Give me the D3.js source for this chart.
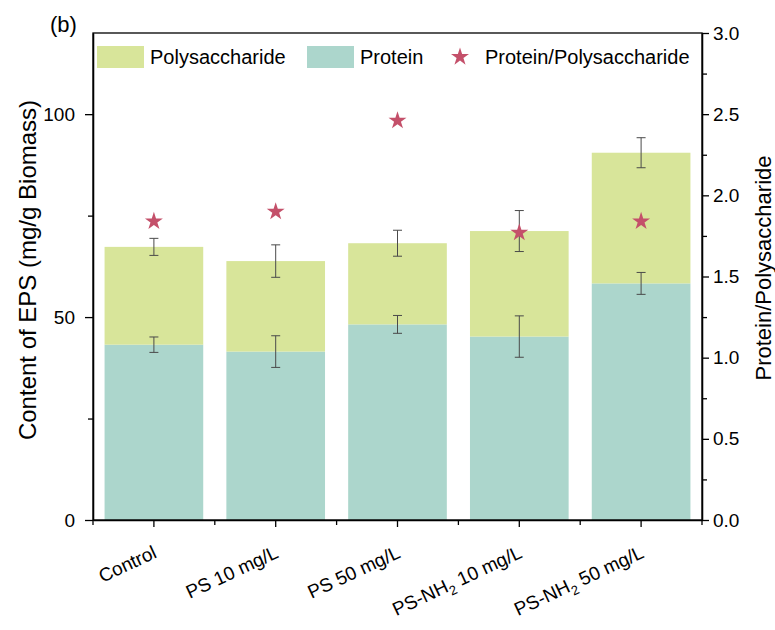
<!DOCTYPE html>
<html>
<head>
<meta charset="utf-8">
<script src="https://cdn.jsdelivr.net/npm/d3@7"></script>
<style>
  body { margin: 0; background: #fff; }
  svg { font-family: "Liberation Sans", Arial, sans-serif; }
  .axis path, .axis line { stroke: #000; stroke-width: 1.3; }
  .axis text { font-size: 19px; fill: #000; }
</style>
</head>
<body>
<svg id="draw"></svg>
<script>
// values
var categories = ["Control", "PS 10 mg/L", "PS 50 mg/L", "PS-NH2 10 mg/L", "PS-NH2 50 mg/L"];
var protein = [43.2, 41.5, 48.2, 45.2, 58.3];
var proteinErr = [1.9, 3.9, 2.2, 5.1, 2.7];
var polysaccharide = [24.1, 22.3, 20.0, 26.0, 32.2];
var polysaccharideErr = [2.1, 4.0, 3.2, 5.05, 3.7];
var ratio = [1.84, 1.90, 2.46, 1.77, 1.84];
var leftTicks = [0, 50, 100];
var rightTicks = [0, 0.5, 1.0, 1.5, 2.0, 2.5, 3.0];

var W = 775, H = 630;
var margin = {top: 33, right: 73, bottom: 110, left: 93};
var width = W - margin.left - margin.right;
var height = H - margin.top - margin.bottom;

var colPoly = "#d8e59a", colProt = "#acd6cc", colStar = "#c4506a", colErr = "#4a4a4a";

var svg = d3.select("#draw").attr("width", W).attr("height", H);
var g = svg.append("g").attr("transform", "translate(" + margin.left + "," + margin.top + ")");

var x = d3.scaleBand().domain(categories).range([0, width]).paddingInner(0.19).paddingOuter(0.095);
var y = d3.scaleLinear().domain([0, 120]).range([height, 0]);
var y2 = d3.scaleLinear().domain([0, 3]).range([height, 0]);

var rows = categories.map(function(c, i) {
  return {cat: c, prot: protein[i], protErr: proteinErr[i],
          poly: polysaccharide[i], polyErr: polysaccharideErr[i], ratio: ratio[i]};
});

// protein bars
g.selectAll(".prot").data(rows).enter().append("rect")
  .attr("class", "prot")
  .attr("x", function(d) { return x(d.cat); })
  .attr("width", x.bandwidth())
  .attr("y", function(d) { return y(d.prot); })
  .attr("height", function(d) { return y(0) - y(d.prot); })
  .attr("fill", colProt);

// polysaccharide stacked on top
g.selectAll(".poly").data(rows).enter().append("rect")
  .attr("class", "poly")
  .attr("x", function(d) { return x(d.cat); })
  .attr("width", x.bandwidth())
  .attr("y", function(d) { return y(d.prot + d.poly); })
  .attr("height", function(d) { return y(d.prot) - y(d.prot + d.poly); })
  .attr("fill", colPoly);

// error bars
function errBars(getV, getE) {
  var eb = g.append("g").selectAll("g").data(rows).enter().append("g")
    .attr("transform", function(d) { return "translate(" + (x(d.cat) + x.bandwidth() / 2) + ",0)"; });
  eb.append("line")
    .attr("y1", function(d) { return y(getV(d) - getE(d)); })
    .attr("y2", function(d) { return y(getV(d) + getE(d)); });
  eb.append("line").attr("x1", -4.5).attr("x2", 4.5)
    .attr("y1", function(d) { return y(getV(d) + getE(d)); })
    .attr("y2", function(d) { return y(getV(d) + getE(d)); });
  eb.append("line").attr("x1", -4.5).attr("x2", 4.5)
    .attr("y1", function(d) { return y(getV(d) - getE(d)); })
    .attr("y2", function(d) { return y(getV(d) - getE(d)); });
  eb.selectAll("line").attr("stroke", colErr).attr("stroke-width", 1);
}
errBars(function(d) { return d.prot; }, function(d) { return d.protErr; });
errBars(function(d) { return d.prot + d.poly; }, function(d) { return d.polyErr; });

// ratio stars
var star = d3.symbol().type(d3.symbolStar).size(100);
g.selectAll(".star").data(rows).enter().append("path")
  .attr("class", "star")
  .attr("d", star)
  .attr("fill", colStar)
  .attr("transform", function(d) {
    return "translate(" + (x(d.cat) + x.bandwidth() / 2) + "," + y2(d.ratio) + ")";
  });

// axes
g.append("g").attr("class", "axis")
  .call(d3.axisLeft(y).tickValues(leftTicks).tickSize(8).tickPadding(10).tickSizeOuter(0));
g.append("g").attr("class", "axis")
  .call(d3.axisLeft(y).tickValues([25, 75]).tickSize(5).tickFormat("").tickSizeOuter(0));

g.append("g").attr("class", "axis")
  .attr("transform", "translate(" + width + ",0)")
  .call(d3.axisRight(y2).tickValues(rightTicks).tickSize(7).tickPadding(4)
    .tickFormat(d3.format(".1f")).tickSizeOuter(0));
g.append("g").attr("class", "axis")
  .attr("transform", "translate(" + width + ",0)")
  .call(d3.axisRight(y2).tickValues([0.25, 0.75, 1.25, 1.75, 2.25, 2.75]).tickSize(5)
    .tickFormat("").tickSizeOuter(0));

var xAxis = g.append("g").attr("class", "axis")
  .attr("transform", "translate(0," + height + ")")
  .call(d3.axisBottom(x).tickSize(7).tickSizeOuter(0));
// minor ticks on the band edges
g.append("g").selectAll("line").data(d3.range(categories.length + 1)).enter().append("line")
  .attr("x1", function(i) { return i * x.step(); })
  .attr("x2", function(i) { return i * x.step(); })
  .attr("y1", height).attr("y2", height + 5)
  .attr("stroke", "#000").attr("stroke-width", 1.3);

// rotated labels with subscript
xAxis.selectAll(".tick text").each(function(d) {
  var t = d3.select(this).text("")
    .attr("text-anchor", "end")
    .attr("dy", null)
    .attr("y", 0)
    .style("font-size", "19px")
    .attr("transform", "translate(4,37) rotate(-25)");
  var parts = d.split("NH2");
  if (parts.length > 1) {
    t.append("tspan").text(parts[0] + "NH");
    t.append("tspan").text("2").style("font-size", "13px").attr("dy", 5);
    t.append("tspan").text(parts[1]).attr("dy", -5);
  } else {
    t.text(d);
  }
});

// frame
g.append("rect").attr("width", width).attr("height", height)
  .attr("fill", "none").attr("stroke", "#000").attr("stroke-width", 1.3);

// axis titles
svg.append("text")
  .attr("transform", "translate(36,270) rotate(-90)")
  .attr("text-anchor", "middle").attr("font-size", 24)
  .text("Content of EPS (mg/g Biomass)");
svg.append("text")
  .attr("transform", "translate(771,268) rotate(-90)")
  .attr("text-anchor", "middle").attr("font-size", 22)
  .text("Protein/Polysaccharide");

svg.append("text").attr("x", 50).attr("y", 32).attr("font-size", 22).text("(b)");

// legend
var legend = svg.append("g").attr("transform", "translate(97,46)");
legend.append("rect").attr("width", 47).attr("height", 22).attr("fill", colPoly);
legend.append("text").attr("x", 53).attr("y", 18).attr("font-size", 20).text("Polysaccharide");
legend.append("rect").attr("x", 210).attr("width", 47).attr("height", 22).attr("fill", colProt);
legend.append("text").attr("x", 263).attr("y", 18).attr("font-size", 20).text("Protein");
legend.append("path").attr("d", star).attr("fill", colStar)
  .attr("transform", "translate(363,11)");
legend.append("text").attr("x", 388).attr("y", 18).attr("font-size", 20).text("Protein/Polysaccharide");
</script>
</body>
</html>
